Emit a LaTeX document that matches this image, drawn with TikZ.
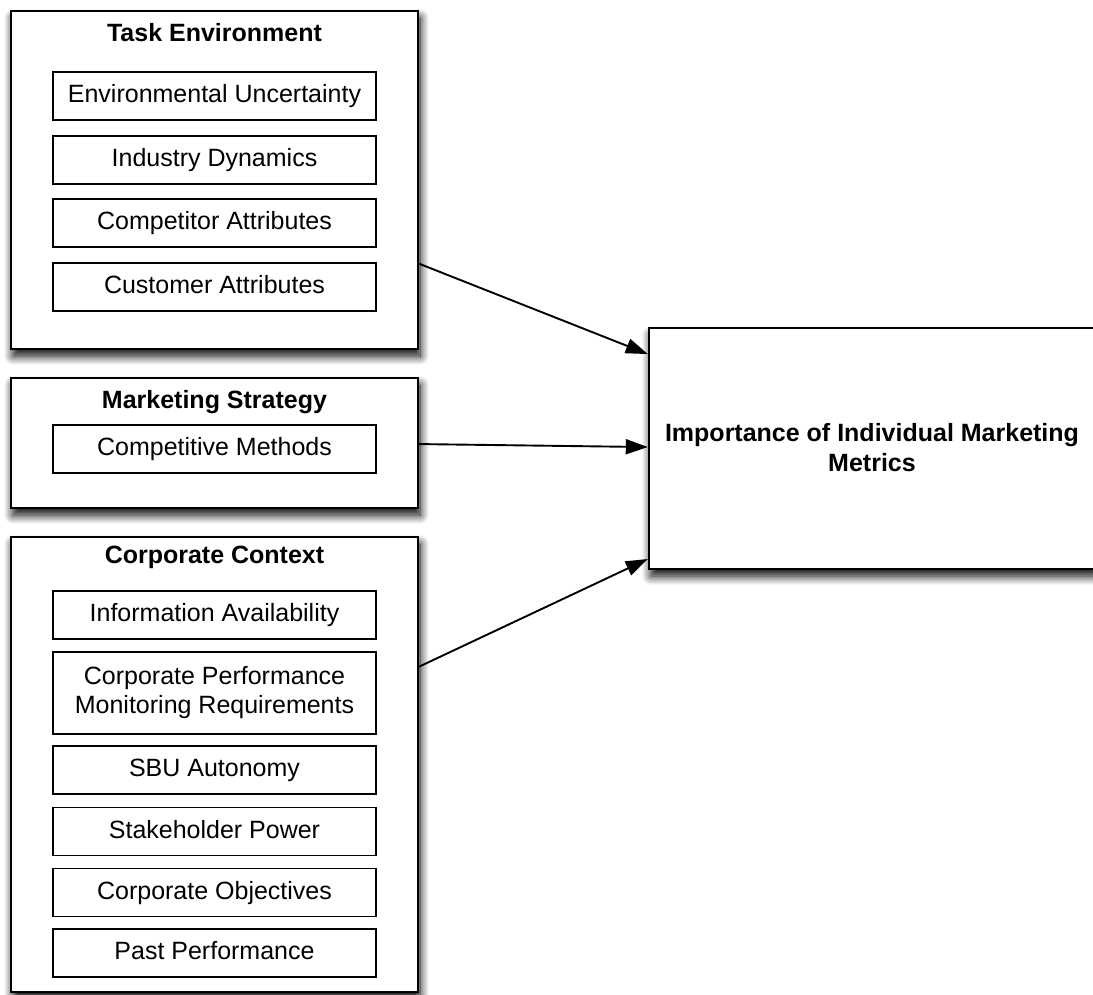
\documentclass[tikz,border=0pt]{standalone}
\usepackage{fontspec}
\setmainfont{Liberation Sans}
\usetikzlibrary{arrows.meta,shadows.blur,calc}
\begin{document}
\begin{tikzpicture}[x=1pt,y=-1pt,
  outerbox/.style={draw=black, line width=2.4pt, fill=white, minimum width=407pt,
    blur shadow={shadow xshift=2pt, shadow yshift=-7pt, shadow blur radius=9pt, shadow opacity=100, shadow blur steps=14}},
  innerbox/.style={draw=black, line width=1.9pt, fill=white, minimum width=323pt,
    minimum height=48pt, inner sep=0pt, font=\fontsize{25}{29}\selectfont,
    text height=18pt, text depth=5pt, align=center},
  title/.style={font=\fontsize{25}{30}\selectfont\bfseries, inner sep=0pt,
    text height=18pt, text depth=5pt},
  conn/.style={line width=1.9pt, -{Triangle[length=22pt,width=15pt]}}
]
\useasboundingbox (0,0) rectangle (1093,994);
% outer boxes
\node[outerbox, minimum height=338pt] (task) at (214.5,180) {};
\node[outerbox, minimum height=130pt] (mkt) at (214.5,443) {};
\node[outerbox, minimum height=455pt] (corp) at (214.5,764.5) {};
\node[outerbox, minimum width=446pt, minimum height=241pt] (imp) at (872,448.5) {};
% titles
\node[title] (taskt) at (214.5,35) {Task Environment};
\node[title] (mktt) at (214.5,402) {Marketing Strategy};
\node[title] (corpt) at (214.5,557) {Corporate Context};
\node[font=\fontsize{25}{30}\selectfont\bfseries, align=center] (impt) at (872,448) {Importance of Individual Marketing\\Metrics};
% inner boxes
\node[innerbox] (eu) at (214.5,96) {Environmental Uncertainty};
\node[innerbox] (id) at (214.5,160) {Industry Dynamics};
\node[innerbox] (ca) at (214.5,223) {Competitor Attributes};
\node[innerbox] (cu) at (214.5,287) {Customer Attributes};
\node[innerbox] (cm) at (214.5,449) {Competitive Methods};
\node[innerbox] (ia) at (214.5,615) {Information Availability};
\node[innerbox, minimum height=82pt, text height=, text depth=] (cp) at (214.5,693) {Corporate Performance\\Monitoring Requirements};
\node[innerbox] (sbu) at (214.5,770) {SBU Autonomy};
\node[innerbox] (sp) at (214.5,831.5) {Stakeholder Power};
\node[innerbox] (co) at (214.5,892.5) {Corporate Objectives};
\node[innerbox] (pp) at (214.5,953) {Past Performance};
% connectors
\draw[conn] ($(task.north east)!0.746!(task.south east)$) -- ($(imp.north west)!0.112!(imp.south west)$);
\draw[conn] ($(mkt.north east)!0.508!(mkt.south east)$) -- ($(imp.north west)!0.494!(imp.south west)$);
\draw[conn] ($(corp.north east)!0.286!(corp.south east)$) -- ($(imp.north west)!0.954!(imp.south west)$);
\end{tikzpicture}
\end{document}
